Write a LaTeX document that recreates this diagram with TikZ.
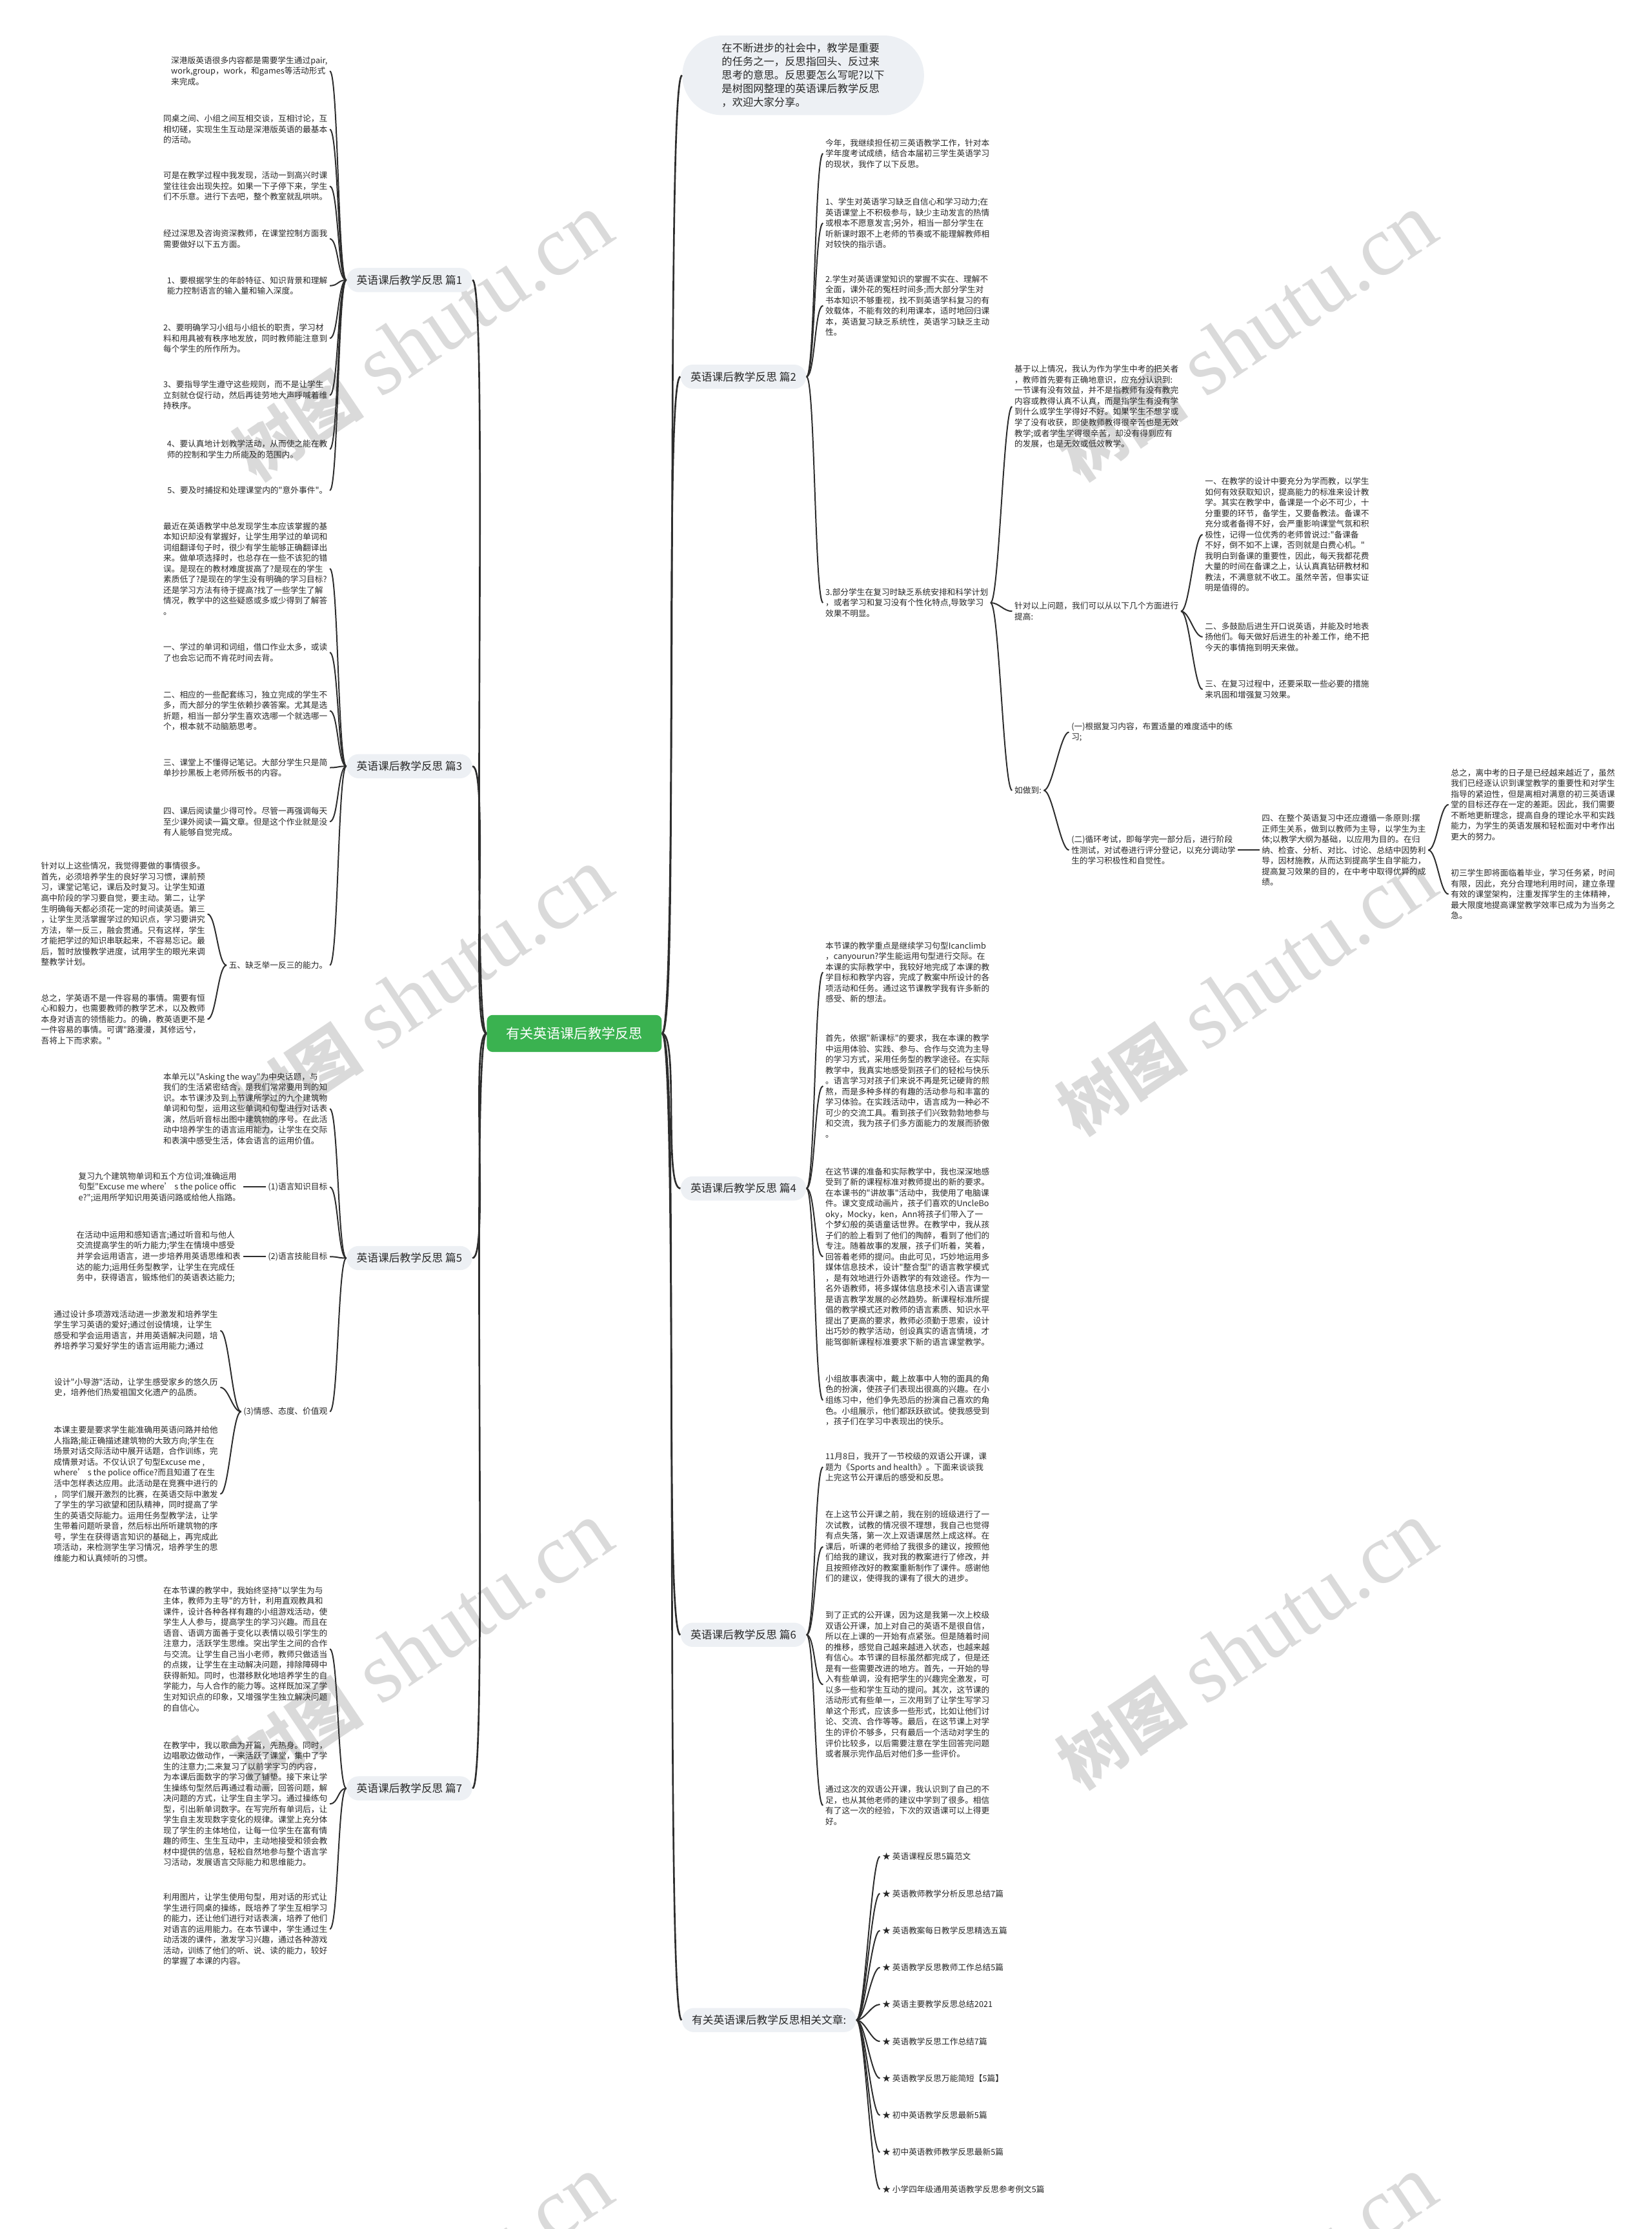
\documentclass[tikz,border=0pt]{standalone}
\usepackage{fontspec}
\usepackage{xcolor}
\usepackage{tikz}
\newfontfamily\cjk{Noto Sans CJK SC}
\newfontfamily\marklatin{Liberation Serif}
\definecolor{rootgreen}{RGB}{58,178,80}
\definecolor{bubgray}{RGB}{237,240,244}
\definecolor{linegray}{RGB}{45,45,45}
\definecolor{textgray}{RGB}{40,40,40}
\definecolor{markgray}{RGB}{218,218,218}
\tikzset{
  mm_root/.style={rectangle, rounded corners=4pt, fill=rootgreen, text=white, font=\cjk\fontsize{9.6}{11}\selectfont, minimum width=123pt, minimum height=26pt, inner sep=0pt},
  mm_topic/.style={rectangle, rounded corners=8.5pt, fill=bubgray, text=textgray, font=\cjk\fontsize{7.6}{9}\selectfont, minimum height=17pt, inner xsep=7pt, inner ysep=0pt},
  mm_intro/.style={rectangle, rounded corners=28pt, fill=bubgray, text=textgray, align=left, font=\cjk\fontsize{7.4}{9.5}\selectfont, minimum width=170pt, minimum height=56pt},
  mm_leaf/.style={align=left, text=textgray, font=\cjk\fontsize{5.77}{7.5}\selectfont, inner sep=1.5pt},
  mm_leafl/.style={mm_leaf, anchor=east},
  mm_leafr/.style={mm_leaf, anchor=west},
  mm_line/.style={draw=linegray, line width=0.9pt},
  mm_trunk/.style={draw=linegray, line width=1.2pt},
  mm_mark/.style={text=markgray, rotate=34, inner sep=0pt}
}

\begin{document}
\begin{tikzpicture}[x=1pt,y=-1pt]
\useasboundingbox (0,0) rectangle (1162,1568);
\fill[white] (0,0) rectangle (1162,1568);

% watermarks
\begin{scope}
\clip (0,0) rectangle (1162,1568);
\foreach \wx in {297,877}{
  \foreach \wy in {238,698,1158,1618}{
    \node[mm_mark] at (\wx,\wy) {{\cjk\bfseries\fontsize{46}{46}\selectfont 树图}\hspace{14pt}{\marklatin\fontsize{60}{60}\selectfont shutu.cn}};
  }
}
\end{scope}

% root and topics
\node[mm_root] (root) at (404,727) {有关英语课后教学反思};
\node[mm_topic] (t1) at (288,197) {英语课后教学反思 篇1};
\node[mm_topic] (t3) at (288,539) {英语课后教学反思 篇3};
\node[mm_topic] (t5) at (288,885) {英语课后教学反思 篇5};
\node[mm_topic] (t7) at (288,1258) {英语课后教学反思 篇7};
\node[mm_intro] (intro) at (565,53) {在不断进步的社会中，教学是重要\\的任务之一，反思指回头、反过来\\思考的意思。反思要怎么写呢?以下\\是树图网整理的英语课后教学反思\\，欢迎大家分享。};
\node[mm_topic] (t2) at (523,265) {英语课后教学反思 篇2};
\node[mm_topic] (t4) at (523,836) {英语课后教学反思 篇4};
\node[mm_topic] (t6) at (523,1150) {英语课后教学反思 篇6};
\node[mm_topic] (rel) at (541,1421) {有关英语课后教学反思相关文章:};

% topic 1
\node[mm_leafl] (t1c1) at (232,50) {深港版英语很多内容都是需要学生通过pair,\\work,group，work，和games等活动形式\\来完成。};
\node[mm_leafl] (t1c2) at (232,91) {同桌之间、小组之间互相交谈，互相讨论，互\\相切磋，实现生生互动是深港版英语的最基本\\的活动。};
\node[mm_leafl] (t1c3) at (232,131) {可是在教学过程中我发现，活动一到高兴时课\\堂往往会出现失控。如果一下子停下来，学生\\们不乐意。进行下去吧，整个教室就乱哄哄。};
\node[mm_leafl] (t1c4) at (232,168) {经过深思及咨询资深教师，在课堂控制方面我\\需要做好以下五方面。};
\node[mm_leafl] (t1c5) at (232,201) {1、要根据学生的年龄特征、知识背景和理解\\能力控制语言的输入量和输入深度。};
\node[mm_leafl] (t1c6) at (232,238) {2、要明确学习小组与小组长的职责，学习材\\料和用具被有秩序地发放，同时教师能注意到\\每个学生的所作所为。};
\node[mm_leafl] (t1c7) at (232,278) {3、要指导学生遵守这些规则，而不是让学生\\立刻就仓促行动，然后再徒劳地大声呼喊着维\\持秩序。};
\node[mm_leafl] (t1c8) at (232,316) {4、要认真地计划教学活动，从而使之能在教\\师的控制和学生力所能及的范围内。};
\node[mm_leafl] (t1c9) at (232,345) {5、要及时捕捉和处理课堂内的"意外事件"。};

% topic 3
\node[mm_leafl] (t3c1) at (232,400) {最近在英语教学中总发现学生本应该掌握的基\\本知识却没有掌握好，让学生用学过的单词和\\词组翻译句子时，很少有学生能够正确翻译出\\来。做单项选择时，也总存在一些不该犯的错\\误。是现在的教材难度拔高了?是现在的学生\\素质低了?是现在的学生没有明确的学习目标?\\还是学习方法有待于提高?找了一些学生了解\\情况，教学中的这些疑惑或多或少得到了解答\\。};
\node[mm_leafl] (t3c2) at (232,459) {一、学过的单词和词组，借口作业太多，或读\\了也会忘记而不肯花时间去背。};
\node[mm_leafl] (t3c3) at (232,500) {二、相应的一些配套练习，独立完成的学生不\\多，而大部分的学生依赖抄袭答案。尤其是选\\折题，相当一部分学生喜欢选哪一个就选哪一\\个，根本就不动脑筋思考。};
\node[mm_leafl] (t3c4) at (232,540) {三、课堂上不懂得记笔记。大部分学生只是简\\单抄抄黑板上老师所板书的内容。};
\node[mm_leafl] (t3c5) at (232,578) {四、课后阅读量少得可怜。尽管一再强调每天\\至少课外阅读一篇文章。但是这个作业就是没\\有人能够自觉完成。};
\node[mm_leafl] (t3c6) at (232,679) {五、缺乏举一反三的能力。};
\node[mm_leafl] (t3c6a) at (146,643) {针对以上这些情况，我觉得要做的事情很多。\\首先，必须培养学生的良好学习习惯，课前预\\习，课堂记笔记，课后及时复习。让学生知道\\高中阶段的学习要自觉，要主动。第二，让学\\生明确每天都必须花一定的时间读英语。第三\\，让学生灵活掌握学过的知识点，学习要讲究\\方法，举一反三，融会贯通。只有这样，学生\\才能把学过的知识串联起来，不容易忘记。最\\后，暂时放慢教学进度，试用学生的眼光来调\\整教学计划。};
\node[mm_leafl] (t3c6b) at (146,717) {总之，学英语不是一件容易的事情。需要有恒\\心和毅力，也需要教师的教学艺术，以及教师\\本身对语言的领悟能力。的确，教英语更不是\\一件容易的事情。可谓"路漫漫，其修远兮，\\吾将上下而求索。"};

% topic 5
\node[mm_leafl] (t5c1) at (232,780) {本单元以"Asking the way"为中央话题，与\\我们的生活紧密结合，是我们常常要用到的知\\识。本节课涉及到上节课所学过的九个建筑物\\单词和句型，运用这些单词和句型进行对话表\\演，然后听音标出图中建筑物的序号。在此活\\动中培养学生的语言运用能力，让学生在交际\\和表演中感受生活，体会语言的运用价值。};
\node[mm_leafl] (t5c2) at (232,835) {(1)语言知识目标};
\node[mm_leafl] (t5c2a) at (171,835) {复习九个建筑物单词和五个方位词;准确运用\\句型"Excuse me where’ s the police offic\\e?";运用所学知识用英语问路或给他人指路。};
\node[mm_leafl] (t5c3) at (232,884) {(2)语言技能目标};
\node[mm_leafl] (t5c3a) at (171,884) {在活动中运用和感知语言;通过听音和与他人\\交流提高学生的听力能力;学生在情境中感受\\并学会运用语言，进一步培养用英语思维和表\\达的能力;运用任务型教学，让学生在完成任\\务中，获得语言，锻炼他们的英语表达能力;};
\node[mm_leafl] (t5c4) at (232,993) {(3)情感、态度、价值观};
\node[mm_leafl] (t5c4a) at (155,936) {通过设计多项游戏活动进一步激发和培养学生\\学生学习英语的爱好;通过创设情境，让学生\\感受和学会运用语言，并用英语解决问题，培\\养培养学习爱好学生的语言运用能力;通过};
\node[mm_leafl] (t5c4b) at (155,976) {设计"小导游"活动，让学生感受家乡的悠久历\\史，培养他们热爱祖国文化遗产的品质。};
\node[mm_leafl] (t5c4c) at (155,1051) {本课主要是要求学生能准确用英语问路并给他\\人指路;能正确描述建筑物的大致方向;学生在\\场景对话交际活动中展开话题，合作训练，完\\成情景对话。不仅认识了句型Excuse me ,\\where’ s the police office?而且知道了在生\\活中怎样表达应用。此活动是在竞赛中进行的\\，同学们展开激烈的比赛，在英语交际中激发\\了学生的学习欲望和团队精神，同时提高了学\\生的英语交际能力。运用任务型教学法，让学\\生带着问题听录音，然后标出所听建筑物的序\\号，学生在获得语言知识的基础上，再完成此\\项活动，来检测学生学习情况，培养学生的思\\维能力和认真倾听的习惯。};

% topic 7
\node[mm_leafl] (t7c1) at (232,1160) {在本节课的教学中，我始终坚持"以学生为与\\主体，教师为主导"的方针，利用直观教具和\\课件，设计各种各样有趣的小组游戏活动，使\\学生人人参与，提高学生的学习兴趣。而且在\\语音、语调方面善于变化以表情以吸引学生的\\注意力，活跃学生思维。突出学生之间的合作\\与交流。让学生自己当小老师，教师只做适当\\的点拨，让学生在主动解决问题，排除障碍中\\获得新知。同时，也潜移默化地培养学生的自\\学能力，与人合作的能力等。这样既加深了学\\生对知识点的印象，又增强学生独立解决问题\\的自信心。};
\node[mm_leafl] (t7c2) at (232,1269) {在教学中，我以歌曲为开篇，先热身。同时，\\边唱歌边做动作，一来活跃了课堂，集中了学\\生的注意力;二来复习了以前学字习的内容，\\为本课后面数字的学习做了铺垫。接下来让学\\生操练句型然后再通过看动画，回答问题，解\\决问题的方式，让学生自主学习。通过操练句\\型，引出新单词数字。在写完所有单词后，让\\学生自主发现数字变化的规律。课堂上充分体\\现了学生的主体地位，让每一位学生在富有情\\趣的师生、生生互动中，主动地接受和领会教\\材中提供的信息，轻松自然地参与整个语言学\\习活动，发展语言交际能力和思维能力。};
\node[mm_leafl] (t7c3) at (232,1357) {利用图片，让学生使用句型，用对话的形式让\\学生进行同桌的操练，既培养了学生互相学习\\的能力，还让他们进行对话表演，培养了他们\\对语言的运用能力。在本节课中，学生通过生\\动活泼的课件，激发学习兴趣，通过各种游戏\\活动，训练了他们的听、说、读的能力，较好\\的掌握了本课的内容。};

% topic 2
\node[mm_leafr] (t2c1) at (579,108) {今年，我继续担任初三英语教学工作，针对本\\学年度考试成绩，结合本届初三学生英语学习\\的现状，我作了以下反思。};
\node[mm_leafr] (t2c2) at (579,157) {1、学生对英语学习缺乏自信心和学习动力;在\\英语课堂上不积极参与，缺少主动发言的热情\\或根本不愿意发言;另外，相当一部分学生在\\听新课时跟不上老师的节奏或不能理解教师相\\对较快的指示语。};
\node[mm_leafr] (t2c3) at (579,215) {2.学生对英语课堂知识的掌握不实在、理解不\\全面，课外花的冤枉时间多;而大部分学生对\\书本知识不够重视，找不到英语学科复习的有\\效载体，不能有效的利用课本，适时地回归课\\本，英语复习缺乏系统性，英语学习缺乏主动\\性。};
\node[mm_leafr] (t2c4) at (579,424) {3.部分学生在复习时缺乏系统安排和科学计划\\，或者学习和复习没有个性化特点,导致学习\\效果不明显。};
\node[mm_leafr] (t2c4a) at (712,286) {基于以上情况，我认为作为学生中考的把关者\\，教师首先要有正确地意识，应充分认识到:\\一节课有没有效益，并不是指教师有没有教完\\内容或教得认真不认真，而是指学生有没有学\\到什么或学生学得好不好。如果学生不想学或\\学了没有收获，即使教师教得很辛苦也是无效\\教学;或者学生学得很辛苦，却没有得到应有\\的发展，也是无效或低效教学。};
\node[mm_leafr] (t2c4b) at (712,430) {针对以上问题，我们可以从以下几个方面进行\\提高:};
\node[mm_leafr] (t2c4b1) at (846,376) {一、在教学的设计中要充分为学而教，以学生\\如何有效获取知识，提高能力的标准来设计教\\学。其实在教学中，备课是一个必不可少，十\\分重要的环节，备学生，又要备教法。备课不\\充分或者备得不好，会严重影响课堂气氛和积\\极性，记得一位优秀的老师曾说过:"备课备\\不好，倒不如不上课，否则就是白费心机。"\\我明白到备课的重要性，因此，每天我都花费\\大量的时间在备课之上，认认真真钻研教材和\\教法，不满意就不收工。虽然辛苦，但事实证\\明是值得的。};
\node[mm_leafr] (t2c4b2) at (846,448) {二、多鼓励后进生开口说英语，并能及时地表\\扬他们。每天做好后进生的补差工作，绝不把\\今天的事情拖到明天来做。};
\node[mm_leafr] (t2c4b3) at (846,485) {三、在复习过程中，还要采取一些必要的措施\\来巩固和增强复习效果。};
\node[mm_leafr] (t2c4c) at (712,556) {如做到:};
\node[mm_leafr] (t2c4c1) at (752,515) {(一)根据复习内容，布置适量的难度适中的练\\习;};
\node[mm_leafr] (t2c4c2) at (752,598) {(二)循环考试，即每学完一部分后，进行阶段\\性测试，对试卷进行评分登记，以充分调动学\\生的学习积极性和自觉性。};
\node[mm_leafr] (t2c4c2x) at (886,598) {四、在整个英语复习中还应遵循一条原则:摆\\正师生关系，做到以教师为主导，以学生为主\\体;以教学大纲为基础，以应用为目的。在归\\纳、检查、分析、对比、讨论、总结中因势利\\导，因材施教，从而达到提高学生自学能力，\\提高复习效果的目的，在中考中取得优异的成\\绩。};
\node[mm_leafr] (t2c4c2x1) at (1019,566) {总之，离中考的日子是已经越来越近了，虽然\\我们已经逐认识到课堂教学的重要性和对学生\\指导的紧迫性，但是离相对满意的初三英语课\\堂的目标还存在一定的差距。因此，我们需要\\不断地更新理念，提高自身的理论水平和实践\\能力，为学生的英语发展和轻松面对中考作出\\更大的努力。};
\node[mm_leafr] (t2c4c2x2) at (1019,629) {初三学生即将面临着毕业，学习任务紧，时间\\有限，因此，充分合理地利用时间，建立条理\\有效的课堂架构，注重发挥学生的主体精神，\\最大限度地提高课堂教学效率已成为为当务之\\急。};

% topic 4
\node[mm_leafr] (t4c1) at (579,684) {本节课的教学重点是继续学习句型Icanclimb\\，canyourun?学生能运用句型进行交际。在\\本课的实际教学中，我较好地完成了本课的教\\学目标和教学内容，完成了教案中所设计的各\\项活动和任务。通过这节课教学我有许多新的\\感受、新的想法。};
\node[mm_leafr] (t4c2) at (579,764) {首先，依据"新课标"的要求，我在本课的教学\\中运用体验、实践、参与、合作与交流为主导\\的学习方式，采用任务型的教学途径。在实际\\教学中，我真实地感受到孩子们的轻松与快乐\\。语言学习对孩子们来说不再是死记硬背的煎\\熬，而是多种多样的有趣的活动参与和丰富的\\学习体验。在实践活动中，语言成为一种必不\\可少的交流工具。看到孩子们兴致勃勃地参与\\和交流，我为孩子们多方面能力的发展而骄傲\\。};
\node[mm_leafr] (t4c3) at (579,884) {在这节课的准备和实际教学中，我也深深地感\\受到了新的课程标准对教师提出的新的要求。\\在本课书的"讲故事"活动中，我使用了电脑课\\件。课文变成动画片，孩子们喜欢的UncleBo\\oky，Mocky，ken，Ann将孩子们带入了一\\个梦幻般的英语童话世界。在教学中，我从孩\\子们的脸上看到了他们的陶醉，看到了他们的\\专注。随着故事的发展，孩子们听着，笑着，\\回答着老师的提问。由此可见，巧妙地运用多\\媒体信息技术，设计"整合型"的语言教学模式\\，是有效地进行外语教学的有效途径。作为一\\名外语教师，将多媒体信息技术引入语言课堂\\是语言教学发展的必然趋势。新课程标准所提\\倡的教学模式还对教师的语言素质、知识水平\\提出了更高的要求，教师必须勤于思索，设计\\出巧妙的教学活动，创设真实的语言情境，才\\能驾御新课程标准要求下新的语言课堂教学。};
\node[mm_leafr] (t4c4) at (579,985) {小组故事表演中，戴上故事中人物的面具的角\\色的扮演，使孩子们表现出很高的兴趣。在小\\组练习中，他们争先恐后的扮演自己喜欢的角\\色。小组展示，他们都跃跃欲试。使我感受到\\，孩子们在学习中表现出的快乐。};

% topic 6
\node[mm_leafr] (t6c1) at (579,1032) {11月8日，我开了一节校级的双语公开课，课\\题为《Sports and health》。下面来谈谈我\\上完这节公开课后的感受和反思。};
\node[mm_leafr] (t6c2) at (579,1088) {在上这节公开课之前，我在别的班级进行了一\\次试教，试教的情况很不理想，我自己也觉得\\有点失落，第一次上双语课居然上成这样。在\\课后，听课的老师给了我很多的建议，按照他\\们给我的建议，我对我的教案进行了修改，并\\且按照修改好的教案重新制作了课件。感谢他\\们的建议，使得我的课有了很大的进步。};
\node[mm_leafr] (t6c3) at (579,1185) {到了正式的公开课，因为这是我第一次上校级\\双语公开课，加上对自己的英语不是很自信，\\所以在上课的一开始有点紧张。但是随着时间\\的推移，感觉自己越来越进入状态，也越来越\\有信心。本节课的目标虽然都完成了，但是还\\是有一些需要改进的地方。首先，一开始的导\\入有些单调，没有把学生的兴趣完全激发，可\\以多一些和学生互动的提问。其次，这节课的\\活动形式有些单一，三次用到了让学生写学习\\单这个形式，应该多一些形式，比如让他们讨\\论、交流、合作等等。最后，在这节课上对学\\生的评价不够多，只有最后一个活动对学生的\\评价比较多，以后需要注意在学生回答完问题\\或者展示完作品后对他们多一些评价。};
\node[mm_leafr] (t6c4) at (579,1270) {通过这次的双语公开课，我认识到了自己的不\\足，也从其他老师的建议中学到了很多。相信\\有了这一次的经验，下次的双语课可以上得更\\好。};

% related articles
\foreach \txt [count=\i] in {英语课程反思5篇范文, 英语教师教学分析反思总结7篇, 英语教案每日教学反思精选五篇, 英语教学反思教师工作总结5篇, 英语主要教学反思总结2021, 英语教学反思工作总结7篇, 英语教学反思万能简短【5篇】, 初中英语教学反思最新5篇, 初中英语教师教学反思最新5篇, 小学四年级通用英语教学反思参考例文5篇}
  \node[mm_leafr] (rel\i) at (619,{1306+26*(\i-1)}) {★ \txt};

% connectors from the root
\foreach \t in {t1,t3,t5,t7}
  \draw[mm_trunk] (root.west) .. controls +(-12,0) and +(12,0) .. (\t.east);
\foreach \t in {intro,t2,t4,t6,rel}
  \draw[mm_trunk] (root.east) .. controls +(12,0) and +(-12,0) .. (\t.west);

% left brackets
\foreach \c in {t1c1,t1c2,t1c3,t1c4,t1c5,t1c6,t1c7,t1c8,t1c9}
  \draw[mm_line] (t1.west) .. controls +(-6,0) and +(6,0) .. (\c.east);
\foreach \c in {t3c1,t3c2,t3c3,t3c4,t3c5,t3c6}
  \draw[mm_line] (t3.west) .. controls +(-6,0) and +(6,0) .. (\c.east);
\foreach \c in {t3c6a,t3c6b}
  \draw[mm_line] (t3c6.west) .. controls +(-6,0) and +(6,0) .. (\c.east);
\foreach \c in {t5c1,t5c2,t5c3,t5c4}
  \draw[mm_line] (t5.west) .. controls +(-6,0) and +(6,0) .. (\c.east);
\draw[mm_line] (t5c2.west) -- (t5c2a.east);
\draw[mm_line] (t5c3.west) -- (t5c3a.east);
\foreach \c in {t5c4a,t5c4b,t5c4c}
  \draw[mm_line] (t5c4.west) .. controls +(-6,0) and +(6,0) .. (\c.east);
\foreach \c in {t7c1,t7c2,t7c3}
  \draw[mm_line] (t7.west) .. controls +(-6,0) and +(6,0) .. (\c.east);

% right brackets
\foreach \c in {t2c1,t2c2,t2c3,t2c4}
  \draw[mm_line] (t2.east) .. controls +(6,0) and +(-6,0) .. (\c.west);
\foreach \c in {t2c4a,t2c4b,t2c4c}
  \draw[mm_line] (t2c4.east) .. controls +(6,0) and +(-6,0) .. (\c.west);
\foreach \c in {t2c4b1,t2c4b2,t2c4b3}
  \draw[mm_line] (t2c4b.east) .. controls +(6,0) and +(-6,0) .. (\c.west);
\foreach \c in {t2c4c1,t2c4c2}
  \draw[mm_line] (t2c4c.east) .. controls +(6,0) and +(-6,0) .. (\c.west);
\draw[mm_line] (t2c4c2.east) -- (t2c4c2x.west);
\foreach \c in {t2c4c2x1,t2c4c2x2}
  \draw[mm_line] (t2c4c2x.east) .. controls +(6,0) and +(-6,0) .. (\c.west);
\foreach \c in {t4c1,t4c2,t4c3,t4c4}
  \draw[mm_line] (t4.east) .. controls +(6,0) and +(-6,0) .. (\c.west);
\foreach \c in {t6c1,t6c2,t6c3,t6c4}
  \draw[mm_line] (t6.east) .. controls +(6,0) and +(-6,0) .. (\c.west);
\foreach \i in {1,...,10}
  \draw[mm_line] (rel.east) .. controls +(6,0) and +(-6,0) .. (rel\i.west);
\end{tikzpicture}
\end{document}
